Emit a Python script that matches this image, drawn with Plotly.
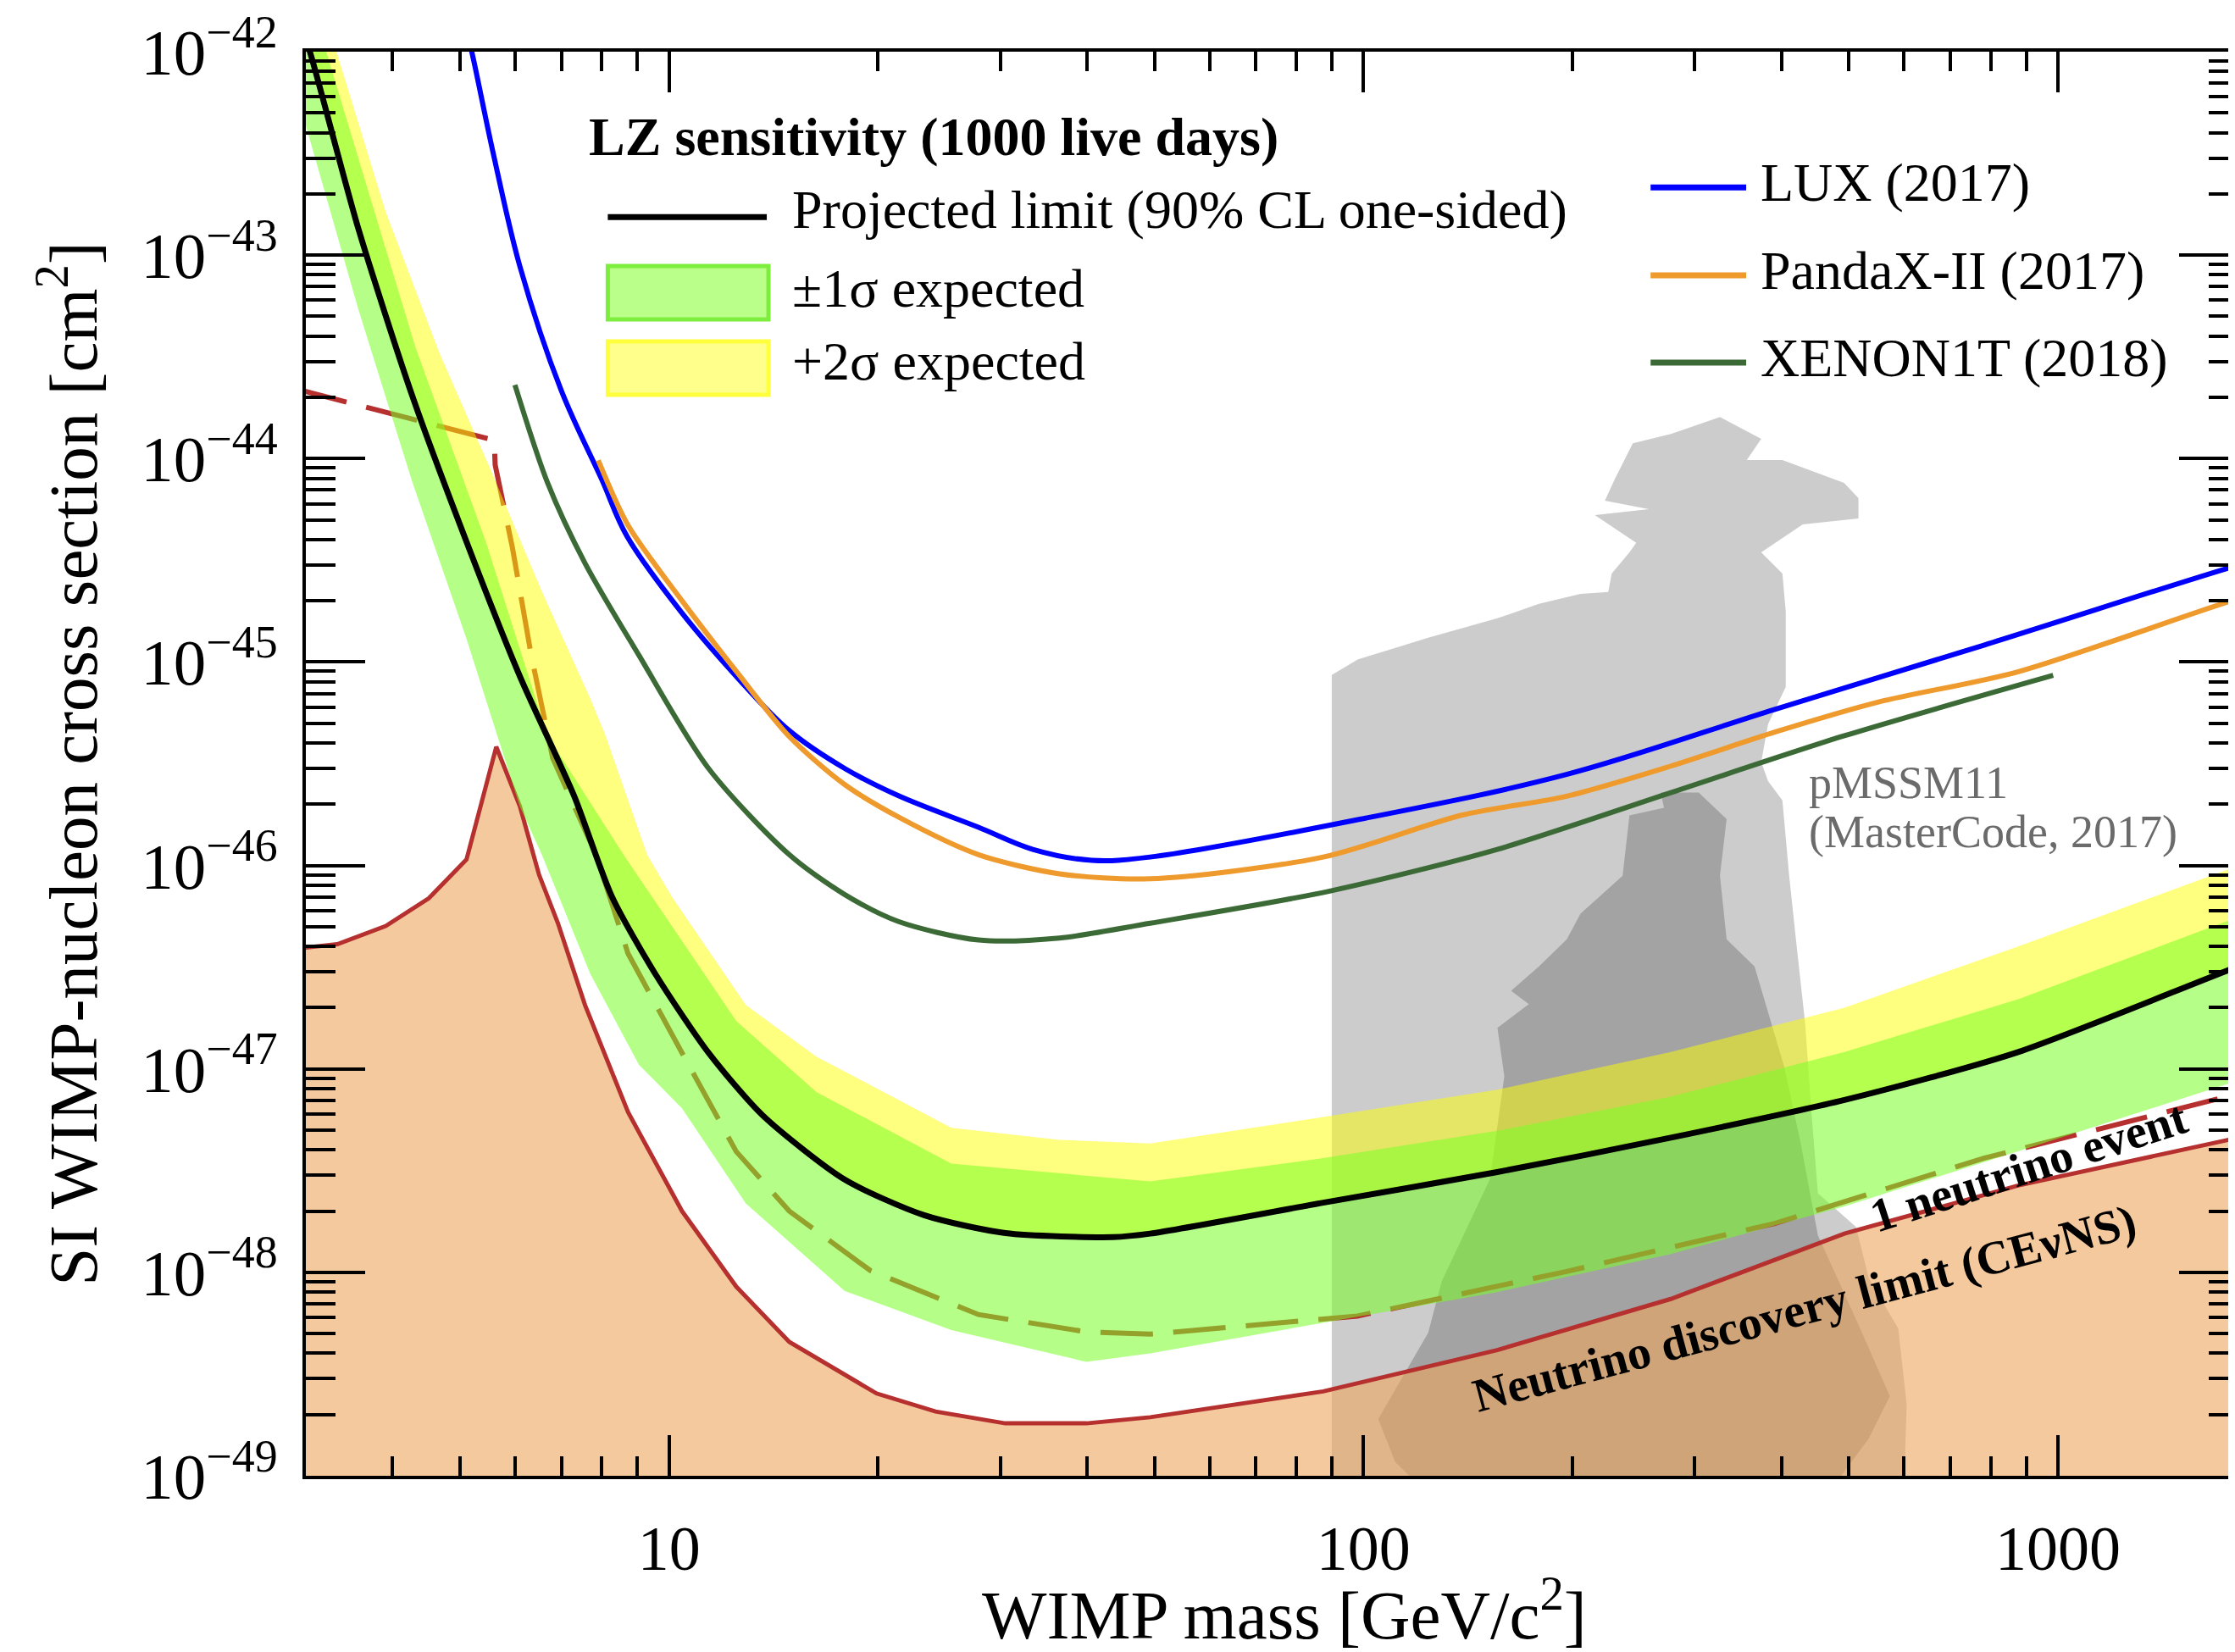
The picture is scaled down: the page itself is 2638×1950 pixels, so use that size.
import plotly.graph_objects as go

# ---------------- data (WIMP mass in GeV/c^2, SI cross section in cm^2) ----------------
LZ_MEDIAN_M = [2.98, 3.04, 3.57, 4.27, 5.11, 6.1, 7.3, 8.28, 9.55, 11.4, 13.65, 17.9, 23.3, 30.5, 43.6, 49.3, 87.5, 155.8, 277, 492.6, 876, 1822, 2000]
LZ_MEDIAN_S = [1.2e-42, 1.0e-42, 1.35e-43, 2.03e-44, 3.9e-45, 8.5e-46, 2.2e-46, 7.0e-47, 2.94e-47, 1.2e-47, 5.9e-48, 2.86e-48, 1.91e-48, 1.56e-48, 1.49e-48, 1.55e-48, 2.2e-48, 3.11e-48, 4.59e-48, 7.03e-48, 1.21e-47, 3.2e-47, 3.55e-47]

LZ_P1_M = [2.9, 3.21, 4.31, 5.45, 6.68, 8.6, 12.5, 16.3, 25.5, 49.3, 87.5, 155.8, 277, 492.6, 876, 1822, 2000]
LZ_P1_S = [1.0e-41, 1.0e-42, 3.56e-44, 3.9e-45, 4.36e-46, 1.13e-46, 1.72e-47, 7.7e-48, 3.42e-48, 2.8e-48, 3.64e-48, 4.96e-48, 7.3e-48, 1.21e-47, 2.2e-47, 5.6e-47, 6.2e-47]

LZ_M1_M = [2.9, 3.57, 4.27, 5.11, 6.1, 6.56, 7.7, 9.05, 10.44, 12.9, 17.9, 25.5, 39.9, 49.3, 87.5, 155.8, 277, 492.6, 876, 1822, 2000]
LZ_M1_S = [6.5e-43, 5.42e-44, 7.66e-45, 1.3e-45, 1.95e-46, 1.13e-46, 2.94e-47, 1.05e-47, 6.4e-48, 2.18e-48, 8.1e-49, 5.2e-49, 3.63e-49, 4.0e-49, 5.65e-49, 8.0e-49, 1.23e-48, 2.11e-48, 3.93e-48, 8.8e-48, 9.6e-48]

LZ_P2_M = [3.15, 3.32, 3.91, 4.67, 5.55, 6.55, 7.7, 8.1, 9.3, 10.1, 12.9, 16.3, 25.5, 36.5, 49.3, 87.5, 155.8, 277, 492.6, 876, 1822, 2000]
LZ_P2_S = [1.8e-42, 1.0e-42, 1.63e-43, 3.32e-44, 8.64e-45, 2.25e-45, 6.64e-46, 4.36e-46, 1.13e-46, 7.0e-47, 2.06e-47, 1.15e-47, 5.13e-48, 4.48e-48, 4.3e-48, 5.8e-48, 7.9e-48, 1.21e-47, 2.0e-47, 4.0e-47, 1.0e-46, 1.1e-46]

NU1_M = [2.9, 5.6, 5.62, 5.95, 6.33, 6.8, 7.85, 8.73, 10.44, 12.5, 14.9, 19.5, 27.9, 39.9, 49.3, 98, 196, 391, 782, 1822, 2000]
NU1_S = [2.2e-44, 1.23e-44, 9.3e-45, 3.65e-45, 1.09e-45, 3.37e-46, 1.13e-46, 3.69e-47, 1.2e-47, 3.92e-48, 2.0e-48, 1.02e-48, 6.2e-49, 5.1e-49, 4.97e-49, 6.1e-49, 1.01e-48, 1.74e-48, 3.64e-48, 7.5e-48, 8.2e-48]

NUFLOOR_M = [2.9, 2.99, 3.33, 3.91, 4.51, 5.11, 5.64, 6.1, 6.5, 6.92, 7.57, 8.73, 10.44, 12.5, 14.9, 19.9, 24.2, 30.5, 39.9, 49.3, 87.5, 155.8, 277, 492.6, 876, 1822, 2000]
NUFLOOR_S = [3.85e-47, 3.94e-47, 4.1e-47, 5.04e-47, 6.9e-47, 1.07e-46, 3.83e-46, 1.95e-46, 9.0e-47, 5.2e-47, 2.06e-47, 6.13e-48, 2.0e-48, 8.5e-49, 4.55e-49, 2.54e-49, 2.07e-49, 1.81e-49, 1.81e-49, 1.94e-49, 2.6e-49, 4.15e-49, 7.4e-49, 1.55e-48, 2.67e-48, 4.6e-48, 5.0e-48]
FLOOR_BASE = 1e-50

LUX_M = [5.1, 5.2, 5.58, 6.1, 7.0, 8.0, 8.7, 10.4, 12.5, 14.9, 17.9, 21.4, 27.9, 33.4, 40.6, 49.3, 100, 196, 391, 782, 1822, 2000]
LUX_S = [1.3e-42, 1.0e-42, 3.2e-43, 8.8e-44, 2.15e-44, 7.9e-45, 4.15e-45, 1.77e-45, 8.5e-46, 4.6e-46, 3.0e-46, 2.2e-46, 1.54e-46, 1.2e-46, 1.06e-46, 1.1e-46, 1.7e-46, 2.8e-46, 5.85e-46, 1.21e-45, 3.0e-45, 3.25e-45]

PANDAX_M = [7.91, 8.73, 10.44, 12.5, 14.9, 17.9, 21.4, 27.9, 36.5, 49.3, 87.5, 138.8, 196, 277, 391, 553, 877, 1822, 2000]
PANDAX_S = [9.8e-45, 4.7e-45, 2.0e-45, 9.0e-46, 4.3e-46, 2.5e-46, 1.73e-46, 1.13e-46, 9.1e-47, 8.6e-47, 1.1e-46, 1.77e-46, 2.19e-46, 3.08e-46, 4.52e-46, 6.37e-46, 8.97e-46, 2.05e-45, 2.2e-45]

XENON_M = [6.0, 6.68, 7.57, 9.05, 11.4, 14.9, 17.9, 21.4, 27.9, 36.5, 49.3, 89.7, 155.8, 277, 492.6, 984]
XENON_S = [2.3e-44, 7.66e-45, 3.06e-45, 1.08e-45, 3.0e-46, 1.13e-46, 7.2e-47, 5.3e-47, 4.3e-47, 4.4e-47, 5.2e-47, 7.5e-47, 1.2e-46, 2.28e-46, 4.34e-46, 8.6e-46]

# pMSSM11 (MasterCode 2017) regions: outer (95% CL) and inner (68% CL)
PMSSM_OUT_M = [90.0, 90.0, 98.2, 123.9, 155.9, 178.9, 205.3, 225.1, 227.7, 241.5, 247.0, 215.3, 257.6, 222.6, 230.2, 244.2, 277.0, 326.0, 373.8, 356.4, 401.0, 492.0, 516.0, 516.0, 429.0, 391.0, 373.8, 401.0, 405.5, 405.5, 382.4, 373.8, 382.4, 401.0, 410.1, 419.4, 432.5, 441.1, 451.1, 511.9, 533.7, 588.8, 605.5, 597.0]
PMSSM_OUT_S = [5e-50, 8.63e-46, 1.03e-45, 1.315e-45, 1.64e-45, 1.93e-45, 2.16e-45, 2.21e-45, 2.72e-45, 3.46e-45, 3.85e-45, 5.28e-45, 5.64e-45, 6.21e-45, 7.97e-45, 1.19e-44, 1.32e-44, 1.60e-44, 1.25e-44, 9.84e-45, 9.84e-45, 7.6e-45, 6.39e-45, 5.08e-45, 4.75e-45, 3.85e-45, 3.46e-45, 2.72e-45, 1.77e-45, 7.55e-46, 4.95e-46, 3.22e-46, 2.60e-46, 2.09e-46, 8.9e-47, 4.34e-47, 1.665e-47, 6.39e-48, 2.45e-48, 1.67e-48, 9.4e-49, 5.29e-49, 2.23e-49, 5e-50]

PMSSM_IN_M = [267.9, 303.8, 333.3, 326.0, 333.3, 365.6, 403.3, 426.6, 451.1, 519.0, 572.6, 533.7, 464.0, 124.3, 111.1, 105.0, 123.9, 129.6, 152.1, 159.5, 155.9, 173.0, 163.1, 178.9, 196.2, 205.3, 236.1, 241.5, 270.8]
PMSSM_IN_S = [2.28e-46, 2.28e-46, 1.69e-46, 8.9e-47, 4.34e-47, 3.19e-47, 1.03e-47, 4.23e-48, 1.52e-48, 5.29e-49, 2.46e-49, 1.52e-49, 8e-50, 8e-50, 1.17e-49, 1.9e-49, 5.04e-49, 9.04e-49, 2.88e-48, 9.19e-48, 1.59e-47, 2.08e-47, 2.42e-47, 3.19e-47, 4.34e-47, 5.79e-47, 8.9e-47, 1.76e-46, 1.92e-46]

X_MAJOR = [10, 100, 1000]
X_MAJOR_TEXT = ["10", "100", "1000"]
X_MINOR = [4, 5, 6, 7, 8, 9, 20, 30, 40, 50, 60, 70, 80, 90, 200, 300, 400, 500, 600, 700, 800, 900]
Y_MAJOR = [1e-49, 1e-48, 1e-47, 1e-46, 1e-45, 1e-44, 1e-43, 1e-42]
Y_MAJOR_TEXT = ["10<sup>−49</sup>", "10<sup>−48</sup>", "10<sup>−47</sup>", "10<sup>−46</sup>",
                "10<sup>−45</sup>", "10<sup>−44</sup>", "10<sup>−43</sup>", "10<sup>−42</sup>"]
Y_MINOR = [m * 10.0 ** e for e in range(-49, -42) for m in range(2, 10)]

# ---------------- styling ----------------
FONT = "Liberation Serif, Times New Roman, serif"
C_FLOOR_FILL = "rgba(237,165,92,0.6)"
C_FLOOR_LINE = "#b5302e"
C_YELLOW = "rgba(255,255,0,0.5)"
C_GREEN = "rgba(120,255,40,0.55)"
C_GRAY = "rgba(0,0,0,0.2)"
C_LUX = "#0000ff"
C_PANDA = "#ee9a2d"
C_XENON = "#3c6a37"

fig = go.Figure()

def add(x, y, **kw):
    fig.add_trace(go.Scatter(x=x, y=y, mode="lines", hoverinfo="skip", showlegend=False, **kw))

# pMSSM11 regions (underneath)
add(PMSSM_OUT_M, PMSSM_OUT_S, fill="toself", fillcolor=C_GRAY, line=dict(width=0))
add(PMSSM_IN_M, PMSSM_IN_S, fill="toself", fillcolor=C_GRAY, line=dict(width=0))

# neutrino discovery limit fill + line
add(NUFLOOR_M + [NUFLOOR_M[-1], NUFLOOR_M[0]], NUFLOOR_S + [FLOOR_BASE, FLOOR_BASE],
    fill="toself", fillcolor=C_FLOOR_FILL, line=dict(width=0))
add(NUFLOOR_M, NUFLOOR_S, line=dict(color=C_FLOOR_LINE, width=5))
# 1 neutrino event (dashed)
add(NU1_M, NU1_S, line=dict(color=C_FLOOR_LINE, width=6, dash="62px,24px"))

# LZ bands
add(LZ_P2_M + LZ_MEDIAN_M[::-1], LZ_P2_S + LZ_MEDIAN_S[::-1], fill="toself",
    fillcolor=C_YELLOW, line=dict(width=0))
add(LZ_P1_M + LZ_M1_M[::-1], LZ_P1_S + LZ_M1_S[::-1], fill="toself",
    fillcolor=C_GREEN, line=dict(width=0))

# LZ projected limit
add(LZ_MEDIAN_M, LZ_MEDIAN_S, line=dict(color="black", width=7, shape="spline", smoothing=0.7))

# existing experiments
add(LUX_M, LUX_S, line=dict(color=C_LUX, width=6, shape="spline", smoothing=1.0))
add(PANDAX_M, PANDAX_S, line=dict(color=C_PANDA, width=6, shape="spline", smoothing=0.8))
add(XENON_M, XENON_S, line=dict(color=C_XENON, width=6, shape="spline", smoothing=0.8))

axis_common = dict(type="log", showline=True, linecolor="black", linewidth=4, mirror="ticks",
                   ticks="inside", tickcolor="black", tickwidth=3.5, showgrid=False, zeroline=False,
                   ticklabeloverflow="allow")

fig.update_xaxes(**axis_common, range=[0.47712, 3.2597], tickmode="array", tickvals=X_MAJOR,
                 ticktext=X_MAJOR_TEXT, ticklen=48, ticklabelstandoff=18,
                 tickfont=dict(family=FONT, size=74, color="black"),
                 minor=dict(tickmode="array", tickvals=X_MINOR, ticks="inside", ticklen=23,
                            tickwidth=3.5, tickcolor="black"))
fig.update_yaxes(**axis_common, range=[-49, -42], tickmode="array", tickvals=Y_MAJOR,
                 ticktext=Y_MAJOR_TEXT, ticklen=70, ticklabelstandoff=14,
                 tickfont=dict(family=FONT, size=77, color="black"),
                 minor=dict(tickmode="array", tickvals=Y_MINOR, ticks="inside", ticklen=35,
                            tickwidth=3.5, tickcolor="black"),
                 title=dict(text="SI WIMP-nucleon cross section [cm<sup>2</sup>]",
                            font=dict(family=FONT, size=81, color="black"), standoff=26))

# ---------------- legends (paper coordinates) ----------------
PW, PH, X0, Y1 = 2285.0, 1682.3, 353.0, 1734.0
def px(x):
    return (x - X0) / PW
def py(y):
    return (Y1 - y) / PH

shapes = [
    dict(type="line", xref="paper", yref="paper", x0=px(710), x1=px(898), y0=py(247), y1=py(247),
         line=dict(color="black", width=7)),
    dict(type="rect", xref="paper", yref="paper", x0=px(710), x1=px(900), y0=py(368), y1=py(305),
         fillcolor="#b9ff8a", line=dict(color="#7ded3e", width=5)),
    dict(type="rect", xref="paper", yref="paper", x0=px(710), x1=px(900), y0=py(457), y1=py(394),
         fillcolor="#ffff8c", line=dict(color="#ffff3c", width=5)),
    dict(type="line", xref="paper", yref="paper", x0=px(1943), x1=px(2056), y0=py(212), y1=py(212),
         line=dict(color=C_LUX, width=7)),
    dict(type="line", xref="paper", yref="paper", x0=px(1943), x1=px(2056), y0=py(316), y1=py(316),
         line=dict(color=C_PANDA, width=7)),
    dict(type="line", xref="paper", yref="paper", x0=px(1943), x1=px(2056), y0=py(419), y1=py(419),
         line=dict(color=C_XENON, width=7)),
]
fig.update_layout(shapes=shapes)

def note(text, x, y, size=64, color="black", xanchor="left", angle=0, bold=False):
    if bold:
        text = "<b>" + text + "</b>"
    fig.add_annotation(text=text, xref="paper", yref="paper", x=px(x), y=py(y), showarrow=False,
                       xanchor=xanchor, yanchor="middle", textangle=angle,
                       font=dict(family=FONT, size=size, color=color))

note("LZ sensitivity (1000 live days)", 686, 152, bold=True)
note("Projected limit (90% CL one-sided)", 926, 238)
note("±1σ expected", 926, 331)
note("+2σ expected", 926, 417)
note("LUX (2017)", 2071, 206)
note("PandaX-II (2017)", 2071, 310)
note("XENON1T (2018)", 2071, 413)
note("pMSSM11", 2128, 915, size=54, color="#6b6b6b")
note("(MasterCode, 2017)", 2128, 973, size=54, color="#6b6b6b")
note("1 neutrino event", 2390, 1369, size=56, xanchor="center", angle=-18, bold=True)
note("Neutrino discovery limit (CEνNS)", 2125, 1536, size=56, xanchor="center", angle=-15, bold=True)
# x-axis title
note("WIMP mass [GeV/c<sup>2</sup>]", 1510, 1893, size=81, xanchor="center")

fig.update_layout(width=2638, height=1950, margin=dict(l=353, r=0, t=52, b=216),
                  plot_bgcolor="white", paper_bgcolor="white", showlegend=False,
                  font=dict(family=FONT, color="black"))

fig.write_html("out.html")
